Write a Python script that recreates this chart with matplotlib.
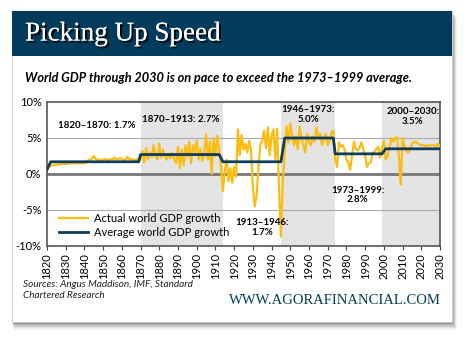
import matplotlib.pyplot as plt
from matplotlib.patches import Rectangle
from matplotlib.lines import Line2D
import matplotlib.patheffects as pe

years = list(range(1820, 2031))
actual_growth = [
    # 1820-1869
    0.6, 1.0, 1.2, 1.2, 1.3, 1.3, 1.3, 1.4, 1.4, 1.4,
    1.4, 1.4, 1.5, 1.5, 1.5, 1.5, 1.5, 1.5, 1.5, 1.5,
    1.5, 1.6, 1.9, 2.0, 2.2, 2.5, 2.1, 2.0, 2.0, 1.9,
    2.0, 2.1, 2.0, 1.9, 2.1, 2.0, 2.3, 2.0, 2.1, 2.2,
    2.1, 1.9, 2.0, 2.4, 2.0, 2.1, 2.0, 1.9, 2.1, 2.0,
    # 1870-1912
    2.0, 3.2, 1.6, 3.6, 2.0, 3.0, 2.4, 4.0, 2.5, 2.0,
    4.2, 2.3, 3.4, 2.5, 2.0, 2.8, 2.2, 3.0, 2.0, 1.5,
    3.8, 0.8, 3.4, 1.2, 4.0, 2.4, 4.5, 1.5, 4.0, 3.0,
    4.6, 2.0, 3.5, 1.8, 3.0, 5.5, 2.0, 4.5, 0.0, 5.0,
    2.5, 5.3, 3.4,
    # 1913-1945
    1.0, -2.4, 0.5, 2.0, -1.0, 0.8, -1.2, 1.0, -0.4, 6.2,
    2.6, 5.4, 3.4, 4.2, 3.0, 4.6, 3.5, -1.8, -4.5, -3.0,
    1.0, 4.0, 4.6, 6.0, 3.6, 6.5, 2.6, 5.4, 6.2, 2.0,
    6.3, -2.0, -8.7,
    # 1946-1972
    -1.0, 3.0, 6.6, 4.4, 7.0, 5.4, 4.0, 5.2, 3.4, 6.6,
    5.0, 4.0, 3.0, 5.6, 4.4, 4.0, 5.2, 4.5, 6.5, 5.0,
    5.6, 4.0, 5.0, 5.6, 4.0, 4.6, 5.8,
    # 1973-1999
    6.0, 2.0, 1.0, 4.4, 3.8, 4.0, 3.4, 2.0, 1.6, 0.6,
    2.6, 4.5, 3.5, 3.3, 3.6, 4.4, 3.5, 2.5, 1.0, 1.5,
    1.6, 3.0, 3.0, 3.5, 3.8, 2.3, 3.5,
    # 2000-2030
    4.6, 2.0, 2.6, 3.7, 5.0, 4.5, 5.0, 5.1, 2.6, -1.5,
    5.0, 4.0, 3.2, 3.0, 3.4, 4.2, 4.4, 4.5, 4.3, 4.1,
    4.0, 4.0, 3.9, 3.9, 4.0, 4.0, 4.0, 3.9, 3.9, 4.2,
    3.8,
]

# period averages as drawn (break points of the dark line)
avg_years = [1820, 1822, 1869, 1870, 1912, 1914, 1945, 1947, 1973, 1974, 1999, 2001, 2030]
avg_growth = [0.6, 1.7, 1.7, 2.7, 2.7, 1.7, 1.7, 5.0, 5.0, 2.8, 2.8, 3.5, 3.5]

shaded_periods = [(1870, 1914), (1945, 1974), (1999, 2030)]

period_labels = ['1820\u20131870: 1.7%', '1870\u20131913: 2.7%', '1913\u20131946:\n1.7%',
                 '1946\u20131973:\n5.0%', '1973\u20131999:\n2.8%', '2000\u20132030:\n3.5%']
label_x = [1846.5, 1891.5, 1935, 1959.5, 1986, 2015.5]
label_y = [6.7, 7.6, -7.4, 8.3, -2.9, 8.0]

yellow = '#FDBC12'
navy = '#0E3D5C'
header = '#023B5C'

fig = plt.figure(figsize=(4.7, 3.4), dpi=100)
fig.patch.set_facecolor('white')

# card with soft shadow
W, H = 470, 340
for i, a in enumerate([0.05, 0.07, 0.09, 0.12, 0.16]):
    off = 5 - i
    fig.patches.append(Rectangle(((12 + off * 0.4) / W, 1 - (322 + off * 1.6) / H),
                                 (440 + off * 0.6) / W, 312 / H, transform=fig.transFigure,
                                 facecolor='black', alpha=a, edgecolor='none', zorder=0))
fig.patches.append(Rectangle((12 / W, 1 - 322 / H), 440 / W, 311 / H, transform=fig.transFigure,
                             facecolor='white', edgecolor='#cccccc', lw=0.5, zorder=1))
fig.patches.append(Rectangle((12 / W, 1 - 56 / H), 440 / W, 45 / H, transform=fig.transFigure,
                             facecolor=header, edgecolor='none', zorder=2))

fig.text(25 / W, 1 - 34 / H, 'Picking Up Speed', color='white', fontsize=19.5,
         family='Liberation Serif', va='center', ha='left', zorder=3,
         path_effects=[pe.withSimplePatchShadow(offset=(1.5, -1.5), shadow_rgbFace='black', alpha=0.9),
                       pe.Normal()])
fig.text(25 / W, 1 - 78 / H, 'World GDP through 2030 is on pace to exceed the 1973\u20131999 average.',
         fontsize=9.2, family='Lato', weight='bold', style='italic', va='center', ha='left')
fig.text(23 / W, 1 - 290 / H, 'Sources: Angus Maddison, IMF, Standard\nChartered Research',
         fontsize=7.2, family='Lato', style='italic', color='#222222', va='center', ha='left',
         linespacing=1.15)
fig.text(441 / W, 1 - 301 / H, 'WWW.AGORAFINANCIAL.COM', fontsize=10.5, family='Liberation Serif',
         color=header, va='center', ha='right')

ax = fig.add_axes([47 / W, 1 - 246 / H, 393 / W, 144 / H])
ax.set_zorder(5)
ax.set_facecolor('white')

for start, end in shaded_periods:
    ax.axvspan(start, end, color='#e4e4e4', lw=0, zorder=0)
for v in [5, -5]:
    ax.axhline(v, color='#aaaaaa', lw=0.8, zorder=1)
ax.axhline(0, color='#777777', lw=2, zorder=1)

ax.plot(years, actual_growth, color=yellow, lw=1.6, zorder=3)
ax.plot(avg_years, avg_growth, color=navy, lw=2, zorder=4)

for txt, x, y in zip(period_labels, label_x, label_y):
    ax.text(x, y, txt, fontsize=7, weight='bold', ha='center', va='center',
            family='Lato', linespacing=1.1, zorder=5)

ax.set_xlim(1820, 2030)
ax.set_ylim(-10, 10)
ax.set_xticks(range(1820, 2031, 10))
ax.set_xticklabels([str(y) for y in range(1820, 2031, 10)], rotation=90, fontsize=8, family='Lato')
ax.set_yticks([-10, -5, 0, 5, 10])
ax.set_yticklabels(['-10%', '-5%', '0%', '5%', '10%'], fontsize=8, family='Lato')
ax.tick_params(axis='x', length=3, width=0.8, color='#444444', pad=2)
ax.tick_params(axis='y', length=0, pad=4)
for s in ax.spines.values():
    s.set_color('#555555')
    s.set_linewidth(1.2)

handles = [Line2D([], [], color=yellow, lw=1.6), Line2D([], [], color=navy, lw=2)]
ax.legend(handles, ['Actual world GDP growth', 'Average world GDP growth'], loc='lower left',
          frameon=False, prop={'family': 'Lato', 'size': 8}, handlelength=2.6,
          borderaxespad=0.3, labelspacing=0.3, handletextpad=0.6, bbox_to_anchor=(0.01, 0.0))

fig.savefig('out.png', dpi=100)
